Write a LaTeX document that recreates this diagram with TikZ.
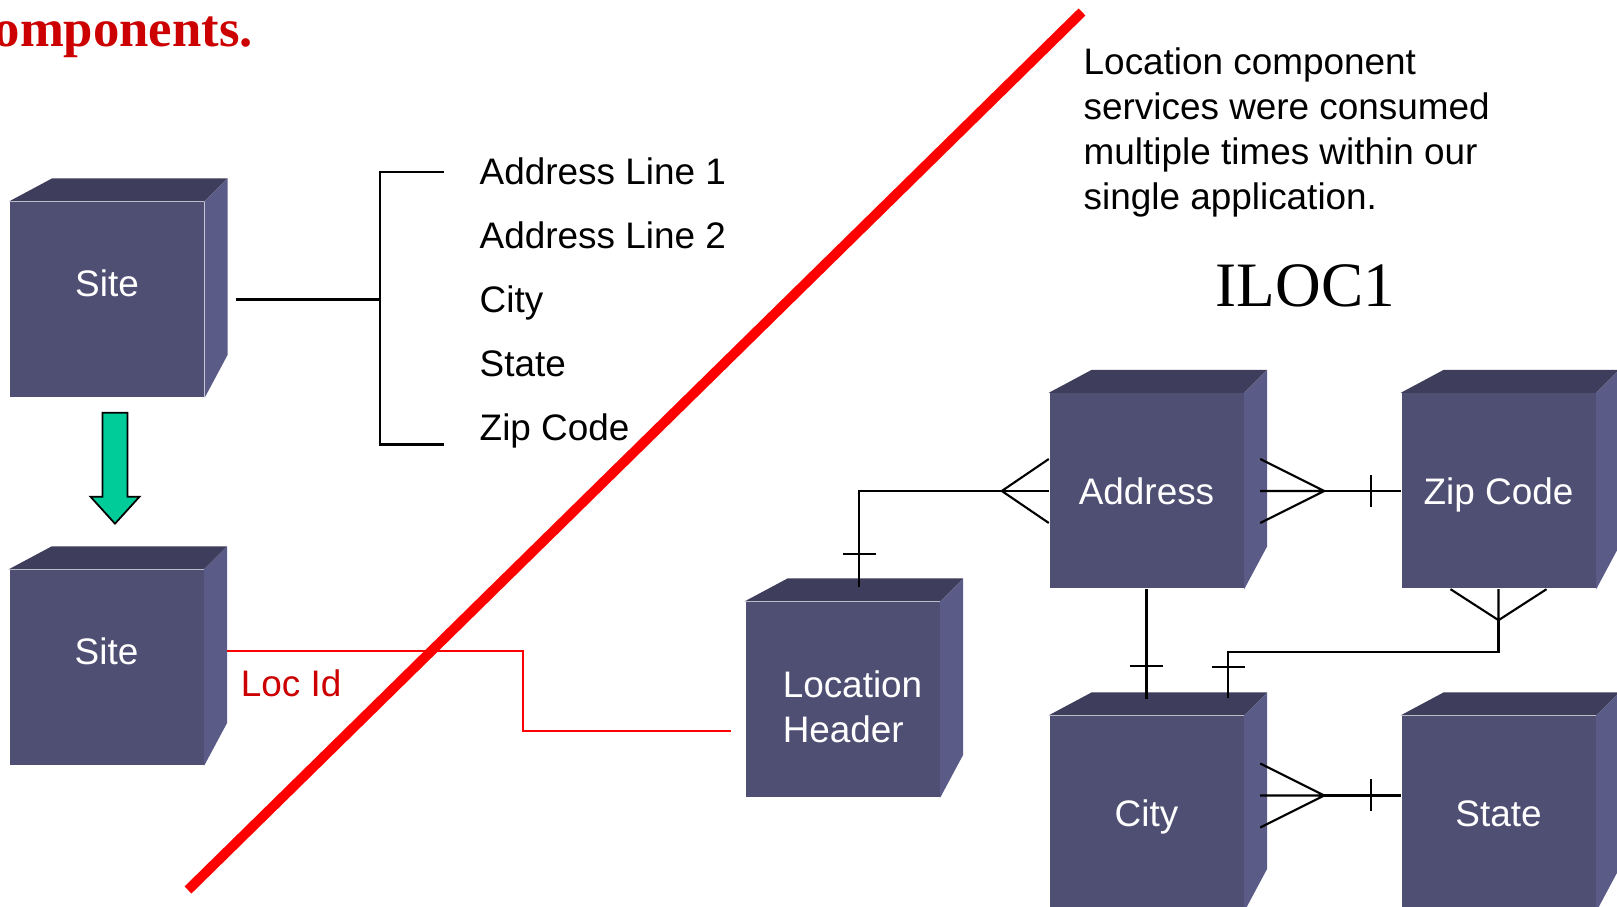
\documentclass[tikz,border=0pt]{standalone}
\usepackage{fontspec}
\setmainfont{Liberation Sans}
\newfontfamily\serifface{Liberation Serif}
\usepackage{tikz}
\definecolor{cubefront}{RGB}{79,79,116}
\definecolor{cubetop}{RGB}{62,62,92}
\definecolor{cubeside}{RGB}{91,91,136}
\definecolor{titlered}{RGB}{204,0,0}
\definecolor{arrowgreen}{RGB}{0,204,153}

\begin{document}
\begin{tikzpicture}[font=\fontsize{10.5}{12.8}\selectfont,
    cube/.style={rectangle, fill=cubefront, minimum width=1.94cm, minimum height=1.95cm,
        inner sep=0pt, text=white, text depth=0pt,
        append after command={\pgfextra{
            \fill[cubetop] (\tikzlastnode.north west) -- ++(0.43,0.23)
                -- ([shift={(0.23,0.23)}]\tikzlastnode.north east) -- (\tikzlastnode.north east) -- cycle;
            \fill[cubeside] (\tikzlastnode.north east) -- ++(0.23,0.23)
                -- ([shift={(0.23,0.43)}]\tikzlastnode.south east) -- (\tikzlastnode.south east) -- cycle;
        }}},
    item/.style={anchor=base west, inner sep=0pt},
    erline/.style={line width=0.6pt},
    locline/.style={red, line width=0.45pt}
]
    \useasboundingbox (0,0) rectangle (16.17,9.07);

    \node[anchor=base west, inner sep=0pt, text=titlered, font=\serifface\bfseries\fontsize{15}{16}\selectfont] (title) at (-0.07,8.60) {omponents.};

    % old model: one site owns its address fields
    \node[cube, text depth=3.3mm] (site1) at (1.07,6.075) {Site};
    \node[cube, text depth=3.3mm] (site2) at (1.065,2.395) {Site};

    \foreach \t [count=\i] in {Address Line 1, Address Line 2, City, State, Zip Code}
        \node[item] (l\i) at (4.79,7.86-0.64*\i) {\t};

    \draw[erline] ([xshift=3.1mm]site1.east) -- ++(1.44,0) coordinate (fork);
    \draw[erline] ([xshift=-3.5mm]l1.west) -| (fork) |- ([shift={(-3.5mm,-1.3mm)}]l5.west);

    \draw[fill=arrowgreen, line width=0.5pt] ([shift={(0.08,-0.15)}]site1.south) ++(-0.125,0)
        -- ++(0,-0.84) -- ++(-0.12,0) -- ++(0.245,-0.27) -- ++(0.245,0.27) -- ++(-0.12,0) -- ++(0,0.84) -- cycle;

    % new model: location components
    \node[cube, label={[text=white, align=left, xshift=1mm, yshift=-0.7mm]center:{Location\\Header}}] (lochdr) at (8.425,2.075) {};
    \node[cube] (addr) at (11.465,4.16) {Address};
    \node[cube] (zip) at (14.985,4.16) {Zip Code};
    \node[cube] (city) at (11.465,0.935) {City};
    \node[cube] (state) at (14.985,0.935) {State};

    \draw[locline] ([shift={(2.3mm,1.65mm)}]site2.east) -- ++(2.96,0) |- ([shift={(-1.4mm,-3.15mm)}]lochdr.west);
    \node[anchor=base west, inner sep=0pt, text=titlered] (locid) at ([shift={(3.6mm,-2.95mm)}]site2.east) {Loc Id};

    % header -> address
    \draw[erline] ([shift={(0.165,0.14)}]lochdr.north) |- ([xshift=-4.7mm]addr.west) coordinate (cf1) -- (addr.west);
    \draw[erline] ([yshift=3.2mm]addr.west) -- (cf1) -- ([yshift=-3.2mm]addr.west);
    \draw[erline] ([yshift=4.7mm]lochdr.north) -- ++(0.33,0);

    % address -> zip code
    \draw[erline] ([xshift=8mm]addr.east) coordinate (cf2) -- (zip.west);
    \draw[erline] ([shift={(1.6mm,3.2mm)}]addr.east) -- (cf2) -- ([shift={(1.6mm,-3.2mm)}]addr.east)
        ([xshift=1.6mm]addr.east) -- (cf2);
    \draw[erline] ([shift={(-3mm,1.6mm)}]zip.west) -- ++(0,-3.2mm);

    % zip code -> city
    \draw[erline] ([yshift=-3.1mm]zip.south) coordinate (cf3) -- ++(0,-3.2mm) -| ([shift={(8.15mm,1.7mm)}]city.north);
    \draw[erline] ([xshift=-4.8mm]zip.south) -- (cf3) -- ([xshift=4.8mm]zip.south) (zip.south) -- (cf3);
    \draw[erline] ([shift={(6.5mm,4.8mm)}]city.north) -- ++(3.3mm,0);

    % address -> city
    \draw[erline] (addr.south) -- ([yshift=1.6mm]city.north);
    \draw[erline] ([shift={(-1.65mm,4.9mm)}]city.north) -- ++(3.3mm,0);

    % city -> state
    \draw[erline] ([shift={(8mm,1.8mm)}]city.east) coordinate (cf4) -- ([yshift=1.8mm]state.west);
    \draw[erline] ([shift={(1.6mm,5mm)}]city.east) -- (cf4) -- ([shift={(1.6mm,-1.4mm)}]city.east)
        ([shift={(1.6mm,1.8mm)}]city.east) -- (cf4);
    \draw[erline] ([shift={(-3mm,3.4mm)}]state.west) -- ++(0,-3.2mm);

    \node[anchor=north west, align=left, inner sep=0pt] (note) at (10.83,8.60)
        {Location component\\services were consumed\\multiple times within our\\single application.};
    \node[anchor=base west, inner sep=0pt, font=\serifface\fontsize{18}{20}\selectfont] (iloc) at (12.15,6.00) {ILOC1};

    \draw[red, line width=2.8pt] (1.88,0.17) -- (10.82,8.95);
\end{tikzpicture}
\end{document}
